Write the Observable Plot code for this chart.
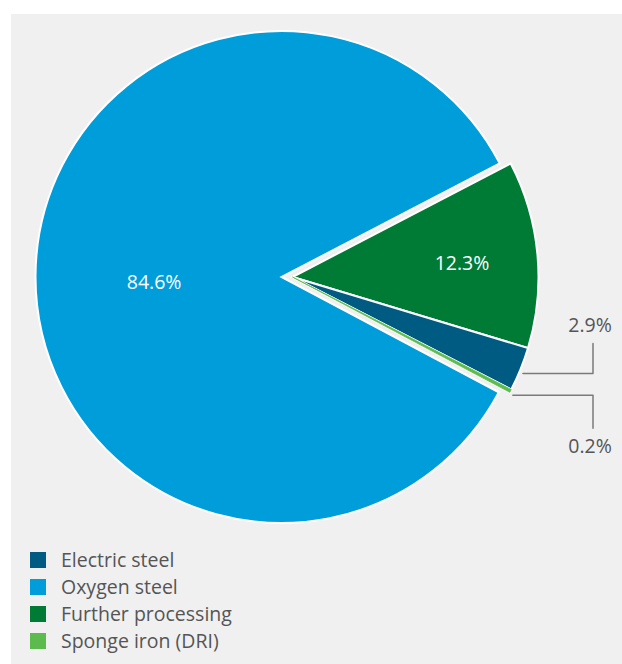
<!DOCTYPE html>
<html><head><meta charset="utf-8">
<script src="https://cdn.jsdelivr.net/npm/d3@7"></script>
<script src="https://cdn.jsdelivr.net/npm/@observablehq/plot@0.6"></script>
<style>
html,body{margin:0;padding:0;background:#fff;}
#panel{position:absolute;left:11px;top:14px;width:611px;height:650px;background:#f0f0f0;font-family:"Open Sans",sans-serif;}
#panel svg{display:block;}
.legend{margin:7px 0 0 19px;}
.item{display:flex;align-items:center;height:27px;font-size:19.5px;color:#555;}
.sw{width:16px;height:16px;margin-right:15px;flex:none;}
</style></head><body><div id="panel"></div>
<script>
const categories = ["Electric steel", "Oxygen steel", "Further processing", "Sponge iron (DRI)"];
const shares = [2.9, 84.6, 12.3, 0.2];
const shareLabels = ["2.9%", "84.6%", "12.3%", "0.2%"];
const colors = ["#005b82", "#009ddb", "#007b36", "#5bbb4c"];
const pieOrder = ["Further processing", "Electric steel", "Sponge iron (DRI)", "Oxygen steel"];

// layout constants (pixels inside the panel)
const W = 611, H = 525;
const cx = 270.5, cy = 263, R = 246, explode = 11;
const startDeg = 62.5;

const colorOf = new Map(categories.map((c, i) => [c, colors[i]]));
const labelOf = new Map(categories.map((c, i) => [c, shareLabels[i]]));
const pieData = pieOrder.map(name => ({name, value: shares[categories.indexOf(name)]}));
const start = startDeg * Math.PI / 180;
const arcs = d3.pie().sort(null).value(d => d.value).startAngle(start).endAngle(start + 2 * Math.PI)(pieData);
const exploded = arcs.filter(a => a.data.name !== "Oxygen steel");
const groupMid = (exploded[0].startAngle + exploded[exploded.length - 1].endAngle) / 2;
const offOf = a => a.data.name === "Oxygen steel" ? [0, 0] : [Math.sin(groupMid) * explode, -Math.cos(groupMid) * explode];
const arcGen = d3.arc().innerRadius(0).outerRadius(R);

function wedges() {
  const g = d3.create("svg:g");
  const tr = a => { const o = offOf(a); return `translate(${cx + o[0]},${cy + o[1]})`; };
  g.selectAll("path.w").data(arcs).join("path")
    .attr("class", "w")
    .attr("transform", tr)
    .attr("d", arcGen)
    .attr("fill", a => colorOf.get(a.data.name))
    .attr("stroke", "#fff").attr("stroke-width", 2).attr("stroke-linejoin", "miter");
  // thin slices drawn again on top so the white separators do not hide them
  g.selectAll("path.t").data(arcs.filter(a => a.data.value < 1)).join("path")
    .attr("class", "t")
    .attr("transform", tr)
    .attr("d", arcGen)
    .attr("fill", a => colorOf.get(a.data.name))
    .attr("stroke", a => colorOf.get(a.data.name)).attr("stroke-width", 0.8);
  return g.node();
}

// inside labels
const insideSpec = {"Oxygen steel": [0.52, 6], "Further processing": [0.69, 2]};
const inside = arcs.filter(a => insideSpec[a.data.name]).map(a => {
  const m = (a.startAngle + a.endAngle) / 2, o = offOf(a), [k, dy] = insideSpec[a.data.name];
  return {text: labelOf.get(a.data.name), x: cx + o[0] + Math.sin(m) * k * R, y: cy + o[1] - Math.cos(m) * k * R + dy};
});

// outside labels with elbow leader lines
const elbowX = cx + R + 65;
const outsideSpec = {"Electric steel": -30, "Sponge iron (DRI)": 33};
const leaders = [], outside = [];
arcs.filter(a => outsideSpec[a.data.name] !== undefined).forEach(a => {
  const m = (a.startAngle + a.endAngle) / 2, o = offOf(a);
  const sx = cx + o[0] + Math.sin(m) * (R + 2), sy = cy + o[1] - Math.cos(m) * (R + 2) + 3;
  const ey = sy + outsideSpec[a.data.name];
  const name = a.data.name;
  leaders.push({name, x: sx, y: sy}, {name, x: elbowX, y: sy}, {name, x: elbowX, y: ey});
  outside.push({text: labelOf.get(name), x: elbowX - 3, y: ey + Math.sign(outsideSpec[name]) * 18});
});

const chart = Plot.plot({
  width: W, height: H, margin: 0,
  x: {type: "identity", axis: null},
  y: {type: "identity", axis: null},
  style: {background: "transparent", fontFamily: "'Open Sans', sans-serif"},
  marks: [
    wedges,
    Plot.line(leaders, {x: "x", y: "y", z: "name", stroke: "#7a7a7a", strokeWidth: 1.5}),
    Plot.text(inside, {x: "x", y: "y", text: "text", fill: "#fff", fontSize: 19.5}),
    Plot.text(outside, {x: "x", y: "y", text: "text", fill: "#555", fontSize: 19.5})
  ]
});
const panel = document.getElementById("panel");
panel.appendChild(chart);

const legend = document.createElement("div");
legend.className = "legend";
categories.forEach((c, i) => {
  const it = document.createElement("div");
  it.className = "item";
  const sw = document.createElement("span");
  sw.className = "sw"; sw.style.background = colors[i];
  const t = document.createElement("span");
  t.textContent = c;
  it.appendChild(sw); it.appendChild(t);
  legend.appendChild(it);
});
panel.appendChild(legend);
</script></body></html>
